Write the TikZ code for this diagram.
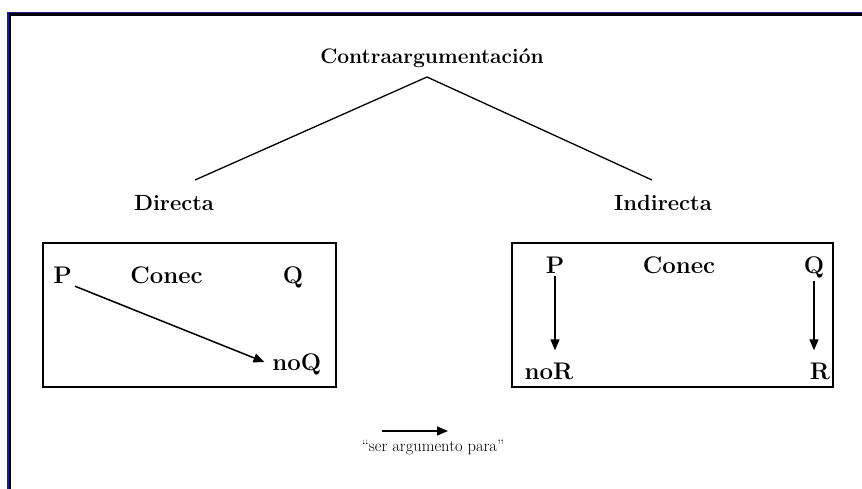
\documentclass[tikz,border=0pt]{standalone}
\usepackage{tikz}
\usetikzlibrary{arrows.meta}
\definecolor{framenavy}{RGB}{28,28,140}

\begin{document}
\begin{tikzpicture}[x=1pt, y=-1pt,
        word/.style={font=\fontsize{22}{26}\selectfont\bfseries, inner sep=2pt, anchor=base},
        boxword/.style={font=\fontsize{24}{28}\selectfont\bfseries, inner sep=3pt, anchor=base},
        panel/.style={draw, line width=1.5pt, inner sep=0pt},
        arr/.style={line width=1.5pt, -{Triangle[length=11pt, width=9pt]}}]
        \useasboundingbox (0,0) rectangle (862,488);
        \clip (0,0) rectangle (862,488);
        % frame, open to the right and below
        \draw[framenavy, line width=1.4pt] (8,500) -- (8,12.5) -- (870,12.5);
        \draw[line width=2.4pt] (10,500) -- (10,14.4) -- (870,14.4);

        % tree
        \node[word, font=\fontsize{21}{24}\selectfont\bfseries] (title) at (432,63) {Contraargumentación};
        \node[word] (dir) at (174,210) {Directa};
        \node[word] (ind) at (663,210) {Indirecta};
        \coordinate (apex) at (427,77);
        \coordinate (dirtop) at (195,180);
        \coordinate (indtop) at (652,180);
        \draw[line width=1.3pt] (dirtop) -- (apex) -- (indtop);

        % directa
        \node[panel, minimum width=293pt, minimum height=144pt] (dbox) at (189.4,314.9) {};
        \node[boxword] (dp) at (62.5,283) {P};
        \node[boxword] (dconec) at (166.5,283) {Conec};
        \node[boxword] (dq) at (293,283) {Q};
        \node[boxword] (dnoq) at (296.7,370) {noQ};
        \draw[arr, shorten >=5pt] (dp.south east) -- (dnoq.west);

        % indirecta
        \node[panel, minimum width=321pt, minimum height=144pt] (ibox) at (672.4,314.9) {};
        \node[boxword] (ip) at (555,273) {P};
        \node[boxword] (iconec) at (679,273) {Conec};
        \node[boxword] (iq) at (814,273) {Q};
        \node[boxword] (inor) at (549,379) {noR};
        \node[boxword] (ir) at (820,379) {R};
        \draw[arr, shorten >=9pt] (ip.south) -- (ip.south |- inor.north);
        \draw[arr, shorten >=9pt] (iq.south) -- (iq.south |- ir.north);

        % legend
        \node[font=\fontsize{16.5}{19}\selectfont, anchor=base] (leg) at (433,451) {“ser argumento para”};
        \coordinate (lega) at (382,431);
        \coordinate (legb) at (448,431);
        \draw[arr] (lega) -- (legb);
\end{tikzpicture}
\end{document}
